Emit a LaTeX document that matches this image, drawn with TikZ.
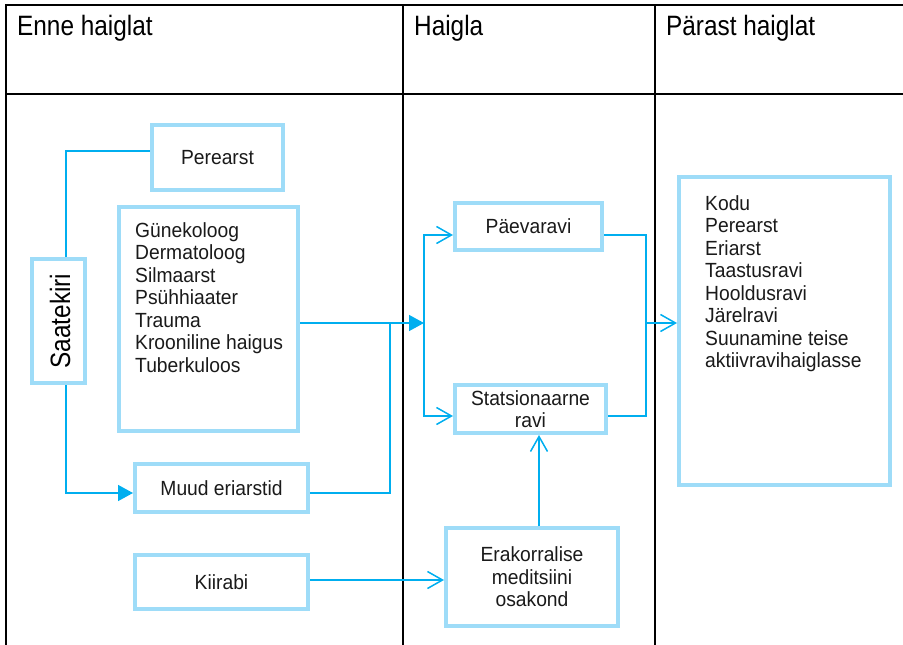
\documentclass[tikz,border=0pt]{standalone}
\usepackage{fontspec}
\setmainfont{Liberation Sans}
\newfontfamily\hfont[FakeStretch=0.87]{Liberation Sans}
\newfontfamily\bfontfam[FakeStretch=0.94]{Liberation Sans}
\usetikzlibrary{arrows.meta}
\definecolor{boxblue}{RGB}{158,220,248}
\definecolor{linkblue}{RGB}{0,174,239}
\definecolor{ink}{RGB}{26,26,26}
\tikzset{
  tab/.style={draw=black, line width=2pt},
  box/.style={draw=boxblue, line width=4pt, fill=white, inner sep=0pt, text=ink,
    font=\bfontfam\fontsize{20.5}{22.5}\selectfont, align=center},
  boxtext/.style={inner sep=0pt, text=ink, font=\bfontfam\fontsize{20.5}{22.5}\selectfont, align=left},
  head/.style={inner sep=0pt, text=black, font=\hfont\fontsize{28}{30}\selectfont},
  conn/.style={draw=linkblue, line width=1.5pt},
  filledtip/.style={-{Triangle[length=15pt,width=16pt]}},
  opentip/.style={-{Straight Barb[length=15pt,width=17pt]}},
}
\begin{document}
\begin{tikzpicture}[x=1pt,y=-1pt]
\useasboundingbox (0,0) rectangle (903,645);
% table frame
\draw[tab] (6,645) -- (6,5) -- (903,5);
\draw[tab] (6,94) -- (903,94);
\draw[tab] (403,5) -- (403,645);
\draw[tab] (655,5) -- (655,645);
% headers
\node[head, anchor=base west] (h1) at (17,35) {Enne haiglat};
\node[head, anchor=base west] (h2) at (414,35) {Haigla};
\node[head, anchor=base west] (h3) at (666,35) {Pärast haiglat};
% boxes
\node[box, minimum width=131pt, minimum height=65pt] (pere) at (217.5,157.5) {Perearst};
\node[box, minimum width=179pt, minimum height=224pt] (spec) at (208.5,319) {};
\node[boxtext, anchor=north west] (spect) at (135,222)
  {Günekoloog\\Dermatoloog\\Silmaarst\\Psühhiaater\\Trauma\\Krooniline haigus\\Tuberkuloos};
\node[box, minimum width=53pt, minimum height=124pt] (saat) at (58.5,321) {};
\node[head, rotate=90] (saatt) at (60,321) {Saatekiri};
\node[box, minimum width=173pt, minimum height=48pt] (muud) at (221.5,488) {Muud eriarstid};
\node[box, minimum width=173pt, minimum height=54pt] (kiir) at (221.5,582) {Kiirabi};
\node[box, minimum width=172pt, minimum height=98pt] (erak) at (532,577) {Erakorralise\\meditsiini\\osakond};
\node[box, minimum width=147pt, minimum height=47pt] (paev) at (528.5,226.5) {Päevaravi};
\node[box, minimum width=151pt, minimum height=48pt] (stat) at (530.5,409) {Statsionaarne\\ravi};
\node[box, minimum width=211pt, minimum height=308pt] (after) at (784.5,331) {};
\node[boxtext, anchor=north west] (aftert) at (705,195)
  {Kodu\\Perearst\\Eriarst\\Taastusravi\\Hooldusravi\\Järelravi\\Suunamine teise\\aktiivravihaiglasse};
% helper coordinates
\coordinate (sx) at (66,0);
\coordinate (py) at (0,151);
\coordinate (my) at (0,493);
\coordinate (jx) at (390,0);
\coordinate (bL) at (424,323);
\coordinate (bR) at (646,323);
\coordinate (ty) at (0,235);
\coordinate (sy) at (0,416);
\coordinate (ky) at (0,580);
\coordinate (ex) at (539,0);
% connectors
\draw[conn] (saat.north -| sx) |- (pere.west |- py);
\draw[conn, filledtip] (saat.south -| sx) |- (muud.west |- my);
\draw[conn, filledtip] (spec.east |- bL) -- (bL);
\draw[conn] (muud.east |- my) -| (jx |- bL);
\draw[conn, opentip] (bL) |- (paev.west |- ty);
\draw[conn, opentip] (bL) |- (stat.west |- sy);
\draw[conn] (paev.east |- ty) -| (bR) |- (stat.east |- sy);
\draw[conn, opentip] (bR) -- (after.west |- bR);
\draw[conn, opentip] (kiir.east |- ky) -- (erak.west |- ky);
\draw[conn, opentip] (erak.north -| ex) -- (stat.south -| ex);
\end{tikzpicture}
\end{document}
